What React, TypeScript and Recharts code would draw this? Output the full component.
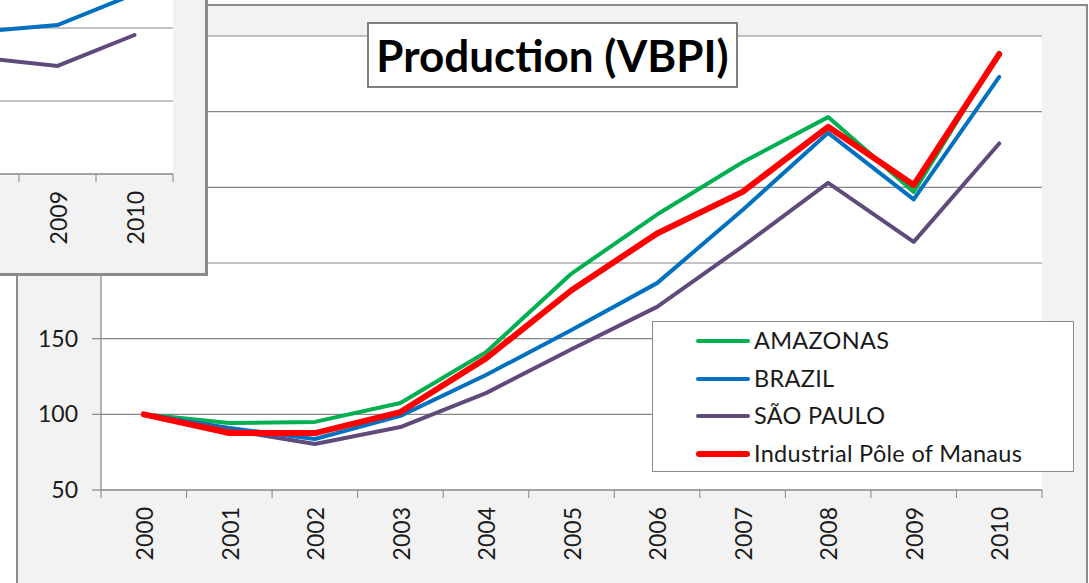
import React from 'react';
import { LineChart, Line, XAxis, YAxis, CartesianGrid, Legend } from 'recharts';

const years = ['2000', '2001', '2002', '2003', '2004', '2005', '2006', '2007', '2008', '2009', '2010'];
const amazonas = [100, 94.3, 95, 107.5, 141, 193, 232, 266.6, 296.4, 247, 339];
const brazil = [100, 91, 83.7, 99, 126, 155.7, 186.7, 235, 286, 242, 323];
const saoPaulo = [100, 89.6, 80.4, 91.6, 114, 143, 171, 211, 253, 214, 279];
const pim = [100, 87.6, 87.6, 101.5, 137, 182, 219.5, 247, 290, 251.5, 338];
const yTicks = [50, 100, 150, 200, 250, 300, 350];
const seriesNames = ['AMAZONAS', 'BRAZIL', 'SÃO PAULO', 'Industrial Pôle of Manaus'];
const seriesColors = ['#00B050', '#0070C0', '#604A7B', '#FF0000'];
const seriesWidths = [4, 4, 4, 6];

const insetYears = ['2008', '2009', '2010'];
const insetBrazil = [147.5, 152, 173.3];
const insetSaoPaulo = [129.6, 124, 145.2];
const insetTicks = [50, 100, 150, 200];

const mainData = years.map((y, i) => ({
  year: y,
  AMAZONAS: amazonas[i],
  BRAZIL: brazil[i],
  'SÃO PAULO': saoPaulo[i],
  'Industrial Pôle of Manaus': pim[i],
}));

const insetData = insetYears.map((y, i) => ({
  year: y,
  BRAZIL: insetBrazil[i],
  'SÃO PAULO': insetSaoPaulo[i],
}));

const FONT = 'Lato, "Open Sans", sans-serif';
const AXIS = '#868686';
const TXT = '#1a1a1a';

const W = 1089;
const H = 583;
const M = { top: 36, right: 47, bottom: 0, left: 0 };
const YW = 101;
const XH = 93;
const mainHalf = (W - M.left - M.right - YW) / years.length / 2;
const INSET_PLOT_W = 231;
const insetHalf = INSET_PLOT_W / insetYears.length / 2;

const makeTick = (half: number, count: number, skipFirstLabel: boolean) => (props: any) => {
  const { x, y, payload, index } = props;
  const tx = x + 1;
  const ty = y + 17;
  return (
    <g>
      <line x1={x - half} y1={y} x2={x - half} y2={y + 8} stroke={AXIS} strokeWidth={1} />
      {index === count - 1 && (
        <line x1={x + half} y1={y} x2={x + half} y2={y + 8} stroke={AXIS} strokeWidth={1} />
      )}
      {!(skipFirstLabel && index === 0) && (
        <text
          x={tx}
          y={ty}
          transform={`rotate(-90 ${tx} ${ty})`}
          textAnchor="end"
          dy="0.36em"
          fontSize={23}
          fill={TXT}
          fontFamily={FONT}
        >
          {payload.value}
        </text>
      )}
    </g>
  );
};

const renderLegend = (props: any) => {
  const payload = [...(props.payload || [])].sort(
    (a: any, b: any) => seriesNames.indexOf(a.value) - seriesNames.indexOf(b.value)
  );
  return (
    <div
      style={{
        width: 422,
        height: 151,
        boxSizing: 'border-box',
        border: '1px solid #8a8a8a',
        background: '#ffffff',
        paddingTop: 0,
      }}
    >
      {payload.map((p: any) => {
        const idx = seriesNames.indexOf(p.value);
        return (
          <div key={p.value} style={{ display: 'flex', alignItems: 'center', height: 37.7 }}>
            <div
              style={{
                marginLeft: 43,
                width: 54,
                height: seriesWidths[idx] === 6 ? 6 : 4,
                borderRadius: 3,
                background: p.color,
              }}
            />
            <span
              style={{
                marginLeft: 4,
                fontSize: 23.5,
                color: TXT,
                fontFamily: FONT,
                lineHeight: 1,
                letterSpacing: 0.3,
              }}
            >
              {p.value}
            </span>
          </div>
        );
      })}
    </div>
  );
};

export default function App() {
  return (
    <div
      style={{
        position: 'absolute',
        left: 0,
        top: 0,
        width: W,
        height: H,
        overflow: 'hidden',
        background: '#ffffff',
        fontFamily: FONT,
      }}
    >
      <div
        style={{
          position: 'absolute',
          left: 16,
          top: 4,
          width: 1072,
          height: 640,
          boxSizing: 'border-box',
          border: '2px solid #8a8a8a',
          background: '#f2f2f2',
        }}
      />
      <div style={{ position: 'absolute', left: 0, top: 0 }}>
        <LineChart width={W} height={H} data={mainData} margin={M}>
          <CartesianGrid horizontal vertical={false} stroke={AXIS} strokeWidth={1.2} fill="#ffffff" />
          <XAxis
            dataKey="year"
            height={XH}
            interval={0}
            padding={{ left: mainHalf, right: mainHalf }}
            tickSize={0}
            tickMargin={0}
            tickLine={false}
            axisLine={{ stroke: AXIS, strokeWidth: 1.2 }}
            tick={makeTick(mainHalf, years.length, false)}
          />
          <YAxis
            width={YW}
            domain={[50, 350]}
            ticks={yTicks}
            interval={0}
            tickSize={9}
            tickMargin={14}
            axisLine={{ stroke: AXIS, strokeWidth: 1.2 }}
            tickLine={{ stroke: AXIS, strokeWidth: 1.2 }}
            tick={{ fontSize: 23, fill: TXT, fontFamily: FONT }}
          />
          {seriesNames.map((name, i) => (
            <Line
              key={name}
              type="linear"
              dataKey={name}
              stroke={seriesColors[i]}
              strokeWidth={seriesWidths[i]}
              dot={false}
              activeDot={false}
              strokeLinejoin="round"
              strokeLinecap="round"
              isAnimationActive={false}
            />
          ))}
          <Legend
            layout="vertical"
            align="center"
            verticalAlign="middle"
            wrapperStyle={{ position: 'absolute', left: 652, top: 321, width: 422, height: 151 }}
            content={renderLegend}
          />
        </LineChart>
      </div>
      <div
        style={{
          position: 'absolute',
          left: 367,
          top: 22,
          width: 371,
          height: 66,
          boxSizing: 'border-box',
          border: '2px solid #7f7f7f',
          background: '#ffffff',
          display: 'flex',
          alignItems: 'center',
          justifyContent: 'center',
          fontFamily: FONT,
          fontWeight: 700,
          fontSize: 44,
          color: '#000000',
          lineHeight: 1,
        }}
      >
        Production (VBPI)
      </div>
      <div
        style={{
          position: 'absolute',
          left: 0,
          top: 0,
          width: 208,
          height: 276,
          boxSizing: 'border-box',
          borderRight: '3px solid #8a8a8a',
          borderBottom: '3px solid #8a8a8a',
          background: '#f2f2f2',
          overflow: 'hidden',
        }}
      >
        <div style={{ position: 'absolute', left: -58, top: -45 }}>
          <LineChart width={266} height={319} data={insetData} margin={{ top: 0, right: 35, bottom: 0, left: 0 }}>
            <CartesianGrid horizontal vertical={false} stroke={AXIS} strokeWidth={1.2} fill="#ffffff" />
            <XAxis
              dataKey="year"
              height={100}
              interval={0}
              padding={{ left: insetHalf, right: insetHalf }}
              tickSize={0}
              tickMargin={0}
              tickLine={false}
              axisLine={{ stroke: AXIS, strokeWidth: 1.2 }}
              tick={makeTick(insetHalf, insetYears.length, true)}
            />
            <YAxis hide domain={[50, 200]} ticks={insetTicks} />
            <Line
              type="linear"
              dataKey="BRAZIL"
              stroke="#0070C0"
              strokeWidth={4}
              dot={false}
              activeDot={false}
              isAnimationActive={false}
            />
            <Line
              type="linear"
              dataKey="SÃO PAULO"
              stroke="#604A7B"
              strokeWidth={4}
              dot={false}
              activeDot={false}
              strokeLinecap="round"
              isAnimationActive={false}
            />
          </LineChart>
        </div>
      </div>
    </div>
  );
}
